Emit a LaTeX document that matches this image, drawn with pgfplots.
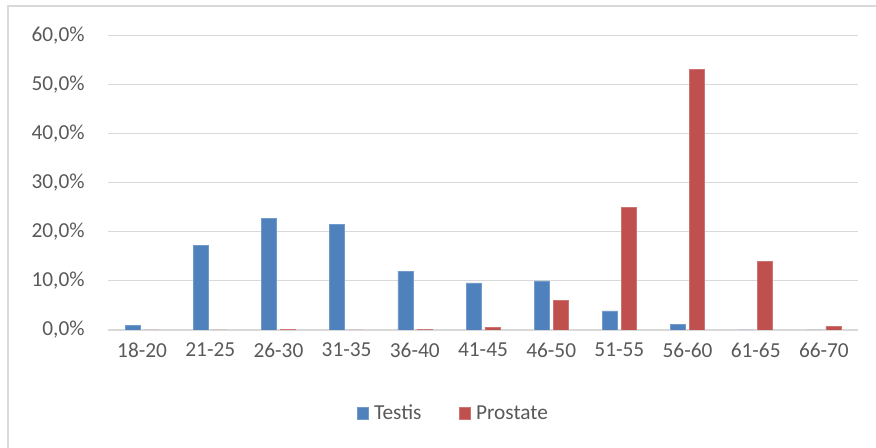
\documentclass[border=0pt]{standalone}
\usepackage{pgfplots}
\pgfplotsset{compat=1.18}
\usepackage{fontspec}
\setmainfont{Carlito}
\definecolor{cblue}{HTML}{4F81BD}
\definecolor{cred}{HTML}{C0504D}
\definecolor{cgrid}{HTML}{D9D9D9}
\definecolor{ctext}{HTML}{595959}
\begin{document}
\begin{tikzpicture}
\path[use as bounding box] (0,0) rectangle (657pt,336pt);
\draw[cgrid, line width=0.8pt] (6pt,0pt) -- (6pt,331.5pt) -- (657pt,331.5pt);
\begin{axis}[
  at={(81pt,88.5pt)}, anchor=south west,
  scale only axis, width=562.5pt, height=221pt,
  xmin=-0.5, xmax=10.5, ymin=0, ymax=60,
  xtick={0,...,10},
  xticklabels={18-20,21-25,26-30,31-35,36-40,41-45,46-50,51-55,56-60,61-65,66-70},
  ytick={0,10,...,60},
  yticklabels={{0,0\%},{10,0\%},{20,0\%},{30,0\%},{40,0\%},{50,0\%},{60,0\%}},
  ymajorgrids, grid style={cgrid, line width=0.9pt},
  axis x line*=bottom, axis y line*=left,
  y axis line style={draw=none},
  x axis line style={cgrid, line width=0.9pt, -},
  major tick length=0pt,
  tick label style={font=\fontsize{16}{18}\selectfont, text=ctext},
  xticklabel style={yshift=-6pt},
  yticklabel style={xshift=-14pt},
  ybar, bar width=11.25pt,
  legend style={at={(0.461,-0.283)}, anchor=center, draw=none, fill=none,
    font=\fontsize{16}{18}\selectfont, text=ctext, legend columns=2,
    /tikz/every odd column/.append style={column sep=2pt},
    /tikz/every even column/.append style={column sep=26pt}},
  legend image code/.code={\fill[#1] (0pt,-4.2pt) rectangle (8.5pt,4.3pt);},
]
\addplot[fill=cblue, draw=cblue!80!white, bar shift=-7.1pt] coordinates {
(0,1.0) (1,17.3) (2,22.8) (3,21.5) (4,12.0) (5,9.6) (6,10.0) (7,3.9) (8,1.1) (9,0) (10,0)};
\addplot[fill=cred, draw=cred!80!white, bar shift=7.1pt] coordinates {
(0,0) (1,0) (2,0.2) (3,0) (4,0.2) (5,0.6) (6,6.0) (7,25.0) (8,53.1) (9,14.0) (10,0.8)};
\legend{Testis, Prostate}
\end{axis}
\end{tikzpicture}
\end{document}
